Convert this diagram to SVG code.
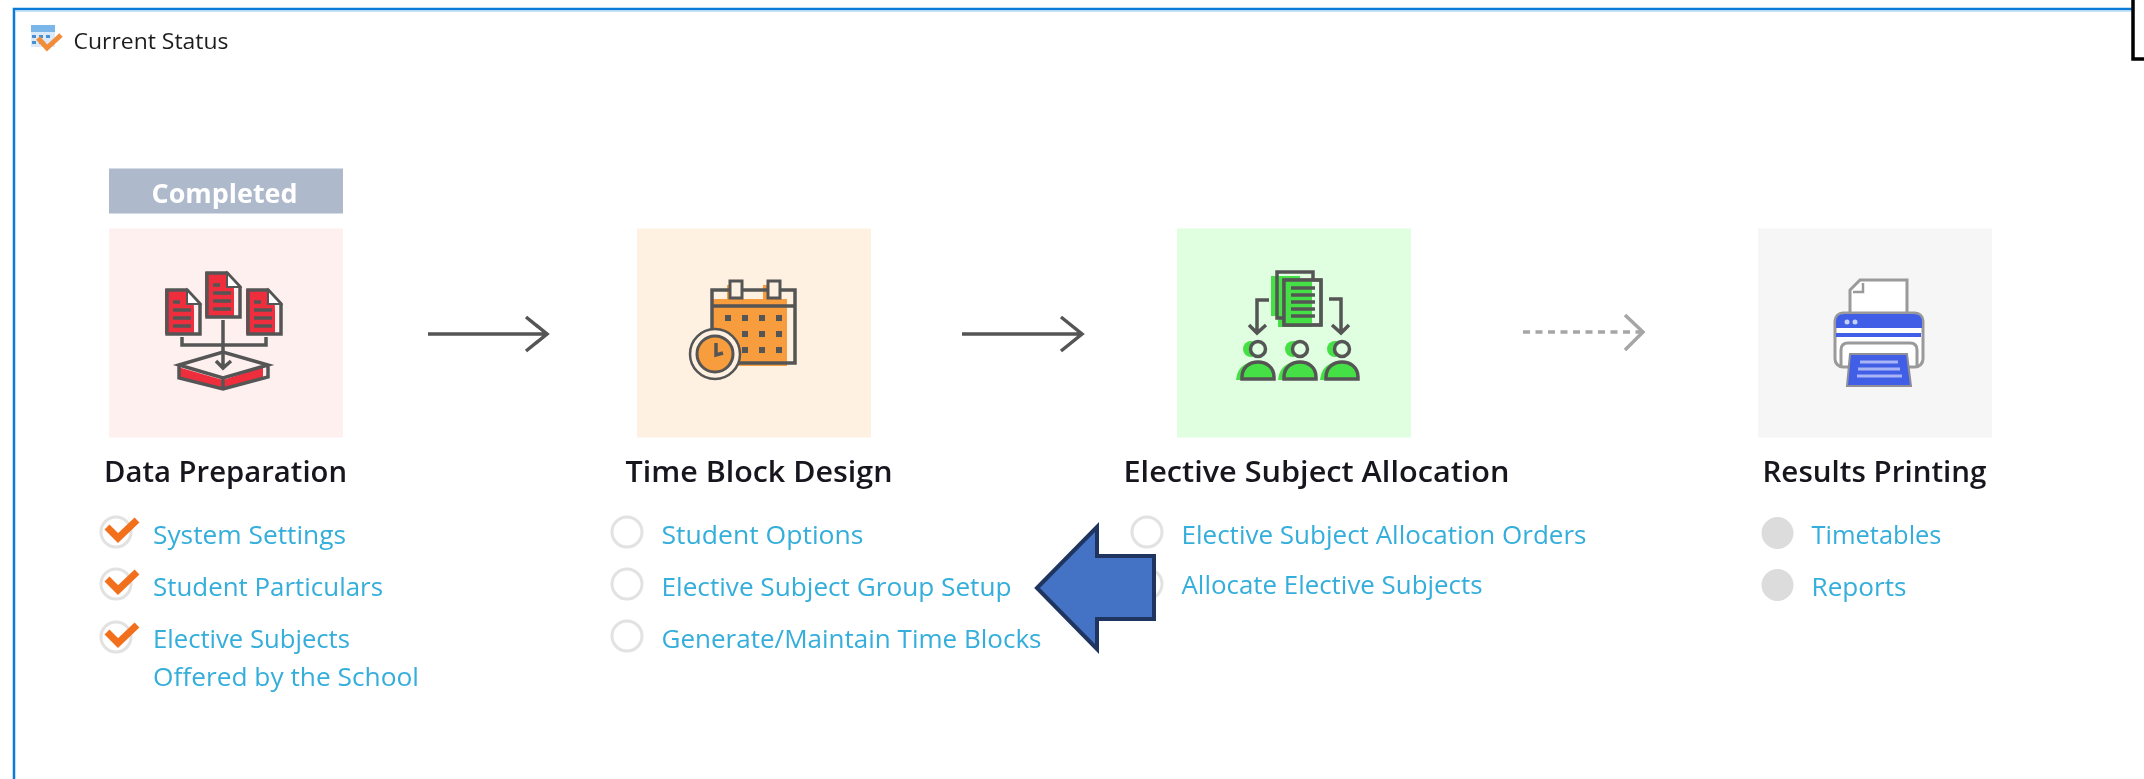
<svg xmlns="http://www.w3.org/2000/svg" xmlns:xlink="http://www.w3.org/1999/xlink" width="2144" height="779" viewBox="0 0 2144 779">
<style>
.title{font-family:"Open Sans","Noto Sans","Liberation Sans",sans-serif;font-size:29px;font-weight:600;fill:#14141e}
.link{font-family:"Open Sans","Noto Sans","Liberation Sans",sans-serif;font-size:26px;fill:#34aedb}
.ic{fill:none;stroke:#555;stroke-width:3.5;stroke-linejoin:miter}
.circ{fill:#fff;stroke:#e2e2e2;stroke-width:3}
.done{fill:#dcdcdc;stroke:#dcdcdc;stroke-width:2}
.chk{fill:none;stroke:#f2701f;stroke-width:7}
.conn{fill:none;stroke:#555;stroke-width:3.5}
.dash{fill:none;stroke:#a6a6a6;stroke-width:3.5}
</style>
<defs>
<filter id="soft" x="0" y="0" width="100%" height="100%" filterUnits="objectBoundingBox"><feGaussianBlur stdDeviation="0.55"/></filter>
<g id="doc">
<path d="M-2 -1H21Q27 4 27 20V44H-2Z" fill="#ee2f3e"/>
<path d="M0 0H20L33 14V44H0Z" class="ic"/>
<path d="M20 0V14H33Z" fill="#fff" stroke="#555" stroke-width="2"/>
<path d="M6 12H13M6 20H24M6 28H24M6 36H24" class="ic"/>
</g>
<g id="person">
<circle cx="-7" cy="0" r="8" fill="#45e045"/>
<path d="M-22 31Q-20 14 -4 13L0 31Z" fill="#45e045"/>
<circle cx="0" cy="0" r="7.5" fill="#e0ffe0" stroke="#555" stroke-width="3.5"/>
<path d="M-16 30V28C-16 18 -8 13 0 13S16 18 16 28V30Z" fill="#45e045" stroke="#555" stroke-width="3.5"/>
</g>
<g id="check">
<circle cx="0" cy="0" r="15" class="circ"/>
<path d="M-9 -5L2 6L21 -12" class="chk"/>
</g>
</defs>
<rect width="2144" height="779" fill="#fff"/>

<g id="frame">
<path d="M14 779V9H2133" fill="none" stroke="#0a7bd8" stroke-width="2.500"/>
<path d="M15.500 11H2133" fill="none" stroke="#b5d8f3" stroke-width="1.500"/>
</g>

<g id="page" filter="url(#soft)">
<g id="window">
<g id="window-icon">
<rect x="31" y="25" width="24" height="22" fill="#dbe9f8"/>
<rect x="31" y="25" width="24" height="7" fill="#7ab6ea"/>
<path d="M32 35h4v3h-4zM39 35h4v3h-4zM46 35h4v3h-4zM32 41h4v3h-4zM39 41h4v3h-4z" fill="#4a90d0"/>
<path d="M38 38L47 48L61 35" fill="none" stroke="#f28c38" stroke-width="5"/>
</g>
<text x="73.500" y="49" font-family="Open Sans,Noto Sans,Liberation Sans,sans-serif" font-size="22" fill="#1c1c1c" textLength="155" lengthAdjust="spacingAndGlyphs">Current Status</text>
</g>

<g id="connectors">
<path d="M428 334H546M526 317L547 334L526 351" class="conn"/>
<path d="M962 334H1081M1061 317L1082 334L1061 351" class="conn"/>
<path d="M1523 332H1641" class="dash" stroke-dasharray="7 5.5"/>
<path d="M1625 315L1643 332L1625 350" class="dash"/>
</g>

<g id="node-data-preparation">
<rect x="109" y="168.500" width="234" height="45" fill="#aeb9cc"/>
<text x="151.500" y="203" font-family="Open Sans,Noto Sans,Liberation Sans,sans-serif" font-size="27" font-weight="700" fill="#fff" textLength="146" lengthAdjust="spacingAndGlyphs">Completed</text>
<rect x="109" y="228.500" width="234" height="209" fill="#fff0f0"/>
<use xlink:href="#doc" href="#doc" x="207" y="273"/>
<use xlink:href="#doc" href="#doc" x="167" y="290"/>
<use xlink:href="#doc" href="#doc" x="248" y="290"/>
<path d="M182 337V345H266V337" class="ic"/>
<path d="M179 365L223 352L268 365V377L223 389L179 378Z" fill="#fff0f0"/>
<path d="M178 367L223 380V389L178 378ZM223 380L263 367V377L223 389Z" fill="#ee2f3e"/>
<path d="M179 365L223 352L268 365L223 378ZM179 365V378L223 389L268 377V365M223 378V389" class="ic"/>
<path d="M223 320V368M216 361L223 368L231 361" class="ic"/>
<text x="104" y="482" class="title" textLength="243" lengthAdjust="spacingAndGlyphs">Data Preparation</text>
<use xlink:href="#check" href="#check" x="116" y="532"/>
<use xlink:href="#check" href="#check" x="116" y="584"/>
<use xlink:href="#check" href="#check" x="116" y="637"/>
<text x="153" y="544" class="link" textLength="193" lengthAdjust="spacingAndGlyphs">System Settings</text>
<text x="153" y="596" class="link" textLength="230" lengthAdjust="spacingAndGlyphs">Student Particulars</text>
<text x="153" y="648" class="link" textLength="197" lengthAdjust="spacingAndGlyphs">Elective Subjects</text>
<text x="153" y="686" class="link" textLength="266" lengthAdjust="spacingAndGlyphs">Offered by the School</text>
</g>

<g id="node-time-block-design">
<rect x="637" y="228.500" width="234" height="209" fill="#fff1e2"/>
<path d="M711 299H787V366H711ZM727 285H733V299H727ZM763 285H771V299H763Z" fill="#f79d3c"/>
<path d="M712 290H795V363H712ZM712 306H795" class="ic"/>
<rect x="730" y="281" width="12" height="17" fill="#fff1e2" stroke="#555" stroke-width="3"/>
<rect x="768" y="281" width="12" height="17" fill="#fff1e2" stroke="#555" stroke-width="3"/>
<path d="M725 315h6v6h-6zM742 315h6v6h-6zM759 315h6v6h-6zM776 315h6v6h-6zM742 331h6v6h-6zM759 331h6v6h-6zM776 331h6v6h-6zM742 347h6v6h-6zM759 347h6v6h-6zM776 347h6v6h-6z" fill="#555"/>
<circle cx="715" cy="354" r="25" fill="#fff1e2" stroke="#555" stroke-width="2.500"/>
<circle cx="715" cy="354" r="18" fill="#f79d3c" stroke="#555" stroke-width="3"/>
<path d="M716 343V355L723 353" class="ic"/>
<text x="625.500" y="482" class="title" textLength="267" lengthAdjust="spacingAndGlyphs">Time Block Design</text>
<circle cx="627" cy="532" r="15" class="circ"/>
<circle cx="627" cy="584" r="15" class="circ"/>
<circle cx="627" cy="636" r="15" class="circ"/>
<text x="661.500" y="544" class="link" textLength="202" lengthAdjust="spacingAndGlyphs">Student Options</text>
<text x="661.500" y="596" class="link" textLength="350" lengthAdjust="spacingAndGlyphs">Elective Subject Group Setup</text>
<text x="661.500" y="648" class="link" textLength="380" lengthAdjust="spacingAndGlyphs">Generate/Maintain Time Blocks</text>
</g>

<g id="node-elective-subject-allocation">
<rect x="1177" y="228.500" width="234" height="209" fill="#e0ffe0"/>
<path d="M1271 276H1300V316H1271ZM1278 300H1312V327H1278Z" fill="#45e045"/>
<rect x="1277" y="272" width="36" height="46" class="ic"/>
<rect x="1284" y="280" width="37" height="45" fill="#e0ffe0" stroke="#555" stroke-width="3"/>
<path d="M1284 281H1312V325H1284Z" fill="#45e045"/>
<rect x="1284" y="280" width="37" height="45" class="ic"/>
<path d="M1291 288H1315M1291 295H1315M1291 302H1315M1291 309H1315M1291 316H1315" class="ic"/>
<path d="M1269 300H1257V332M1249 325L1257 333L1266 325" class="ic"/>
<path d="M1329 299H1341V332M1332 325L1341 333L1349 325" class="ic"/>
<use xlink:href="#person" href="#person" x="1258" y="349"/>
<use xlink:href="#person" href="#person" x="1300" y="349"/>
<use xlink:href="#person" href="#person" x="1342" y="349"/>
<text x="1123.500" y="482" class="title" textLength="386" lengthAdjust="spacingAndGlyphs">Elective Subject Allocation</text>
<circle cx="1147" cy="532" r="15" class="circ"/>
<circle cx="1147" cy="584" r="15" class="circ"/>
<text x="1181.500" y="544" class="link" textLength="405" lengthAdjust="spacingAndGlyphs">Elective Subject Allocation Orders</text>
<text x="1181.500" y="594" class="link" textLength="301" lengthAdjust="spacingAndGlyphs">Allocate Elective Subjects</text>
</g>

<g id="node-results-printing">
<rect x="1758" y="228.500" width="234" height="209" fill="#f6f6f6"/>
<path d="M1850 313V290L1860 280H1907V313" fill="#fff" stroke="#9a9a9a" stroke-width="3"/>
<path d="M1853 292H1863V283" fill="none" stroke="#9a9a9a" stroke-width="2.500"/>
<rect x="1835" y="313" width="88" height="54" rx="8" fill="#fff" stroke="#9a9a9a" stroke-width="3"/>
<path d="M1836 328V322Q1836 314 1844 314H1914Q1922 314 1922 322V328Z" fill="#3f5fe6"/>
<circle cx="1847" cy="322" r="2.500" fill="#c5cff8"/>
<circle cx="1855" cy="322" r="2.500" fill="#c5cff8"/>
<rect x="1836" y="333" width="85" height="4" fill="#3f5fe6"/>
<path d="M1841 366V350Q1841 343 1848 343H1910Q1917 343 1917 350V366" fill="none" stroke="#9a9a9a" stroke-width="3"/>
<path d="M1850 354H1907L1911 386H1847Z" fill="#3f5fe6" stroke="#8f8f9a" stroke-width="2"/>
<path d="M1860 362H1898M1858 369H1900M1857 376H1902" fill="none" stroke="#a8b4f5" stroke-width="3"/>
<text x="1762.500" y="482" class="title" textLength="224" lengthAdjust="spacingAndGlyphs">Results Printing</text>
<circle cx="1777.500" cy="533" r="15" class="done"/>
<circle cx="1777.500" cy="585" r="15" class="done"/>
<text x="1811.500" y="544" class="link" textLength="130" lengthAdjust="spacingAndGlyphs">Timetables</text>
<text x="1811.500" y="596" class="link" textLength="95" lengthAdjust="spacingAndGlyphs">Reports</text>
</g>
</g>

<path id="corner-mark" d="M2133 0V59H2144" fill="none" stroke="#000" stroke-width="3.500"/>

<g id="callout-arrow">
<path d="M1037 588L1097 527V556H1154V619H1097V649Z" fill="#4472c4" stroke="#1f3560" stroke-width="4"/>
</g>
</svg>
